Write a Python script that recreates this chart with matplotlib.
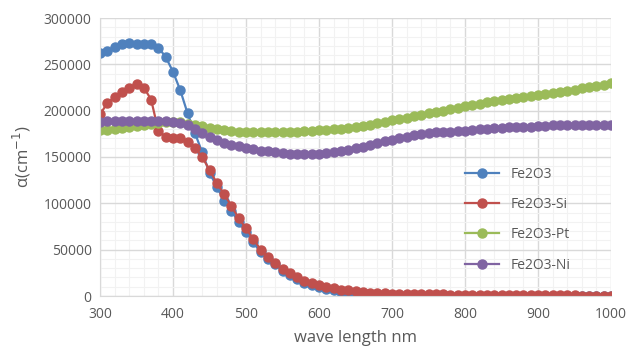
import numpy as np
import matplotlib
matplotlib.use('Agg')
import matplotlib.pyplot as plt
from matplotlib.ticker import MultipleLocator

# wavelength grid (nm), one point every 10 nm
wavelength = list(range(300, 1001, 10))

fe2o3 = [262000, 264000, 269000, 272000, 273000, 272000, 272000, 272000, 268000, 258000,
         242000, 222000, 197000, 176000, 155000, 133000, 118000, 103000, 92000, 80000,
         69000, 58000, 47000, 40000, 34000, 27500, 23000, 18500, 14500, 12000,
         9500, 7500, 6000, 4500, 3500, 2800, 2000, 1500, 1000, 700,
         500, 300, 200, 100, 0, 0, -500, -500, -500, -500,
         -500, -500, -500, -500, -500, -500, -500, -500, -500, -500,
         -300, -300, -300, -300, -300, -300, -300, -300, -300, -300, -300]

fe2o3_si = [196000, 208000, 215000, 220000, 225000, 229000, 225000, 212000, 178000, 172000,
            171000, 170000, 166000, 160000, 150000, 136000, 122000, 110000, 97000, 84000,
            73000, 61500, 50000, 42000, 36000, 29000, 25000, 20500, 16000, 14000,
            11500, 10000, 8500, 7000, 6000, 5000, 4200, 3600, 3200, 2800,
            2600, 2400, 2200, 2100, 2000, 1900, 1800, 1700, 1600, 1600,
            1500, 1500, 1400, 1400, 1300, 1300, 1200, 1200, 1100, 1000,
            900, 800, 700, 700, 600, 600, 500, 500, 400, 400, 400]

fe2o3_pt = [179000, 179500, 180000, 181000, 182000, 183000, 184500, 186000, 187000, 188000,
            188000, 187500, 186000, 185000, 183000, 181500, 180000, 179000, 178000, 177500,
            177000, 177000, 177000, 177000, 177000, 177000, 177000, 177500, 178000, 178500,
            179000, 179500, 180000, 180500, 181500, 182000, 183500, 185000, 186500, 188000,
            189500, 191000, 192500, 194000, 195500, 197000, 198500, 200000, 201500, 203000,
            204500, 206000, 207500, 209000, 210000, 211500, 212500, 213500, 214500, 215500,
            217000, 218000, 219000, 220000, 221500, 222500, 224000, 225500, 227000, 228000, 229500]

fe2o3_ni = [188000, 188500, 188500, 188500, 188500, 188500, 188500, 188500, 188500, 188500,
            188000, 186500, 184000, 180000, 176000, 172000, 168500, 165500, 163000, 161500,
            160000, 158500, 157000, 156000, 155000, 154000, 153000, 153000, 153000, 153000,
            153500, 154000, 155000, 156500, 158000, 159500, 161000, 163000, 165000, 167000,
            168500, 170500, 172000, 173500, 174500, 175500, 176500, 177000, 177500, 178000,
            178500, 179500, 180000, 180500, 181000, 181500, 182000, 182000, 182500, 182500,
            183000, 183500, 184000, 184000, 184500, 184500, 185000, 185000, 185000, 185000, 185000]

series = [('Fe2O3', fe2o3, '#4F81BD'),
          ('Fe2O3-Si', fe2o3_si, '#C0504D'),
          ('Fe2O3-Pt', fe2o3_pt, '#9BBB59'),
          ('Fe2O3-Ni', fe2o3_ni, '#8064A2')]

plt.rcParams['font.family'] = ['Open Sans', 'DejaVu Sans']
text_color = '#595959'

fig = plt.figure(figsize=(6.26, 3.58), dpi=100)
ax = fig.add_axes([100 / 626, 1 - 296 / 358, 511 / 626, 278 / 358])

for name, values, color in series:
    ax.plot(wavelength, values, color=color, linewidth=1.6, marker='o',
            markersize=6.5, label=name)

ax.set_xlim(300, 1000)
ax.set_ylim(0, 300000)
ax.xaxis.set_major_locator(MultipleLocator(100))
ax.xaxis.set_minor_locator(MultipleLocator(20))
ax.yaxis.set_major_locator(MultipleLocator(50000))
ax.yaxis.set_minor_locator(MultipleLocator(10000))

ax.grid(which='major', color='#d9d9d9', linewidth=1.0)
ax.grid(which='minor', color='#f2f2f2', linewidth=0.8)
ax.set_axisbelow(True)

for side in ['top', 'right']:
    ax.spines[side].set_visible(False)
for side in ['left', 'bottom']:
    ax.spines[side].set_color('#d9d9d9')

ax.tick_params(which='both', length=0, colors=text_color, labelsize=10, pad=6)
ax.tick_params(axis='x', pad=8)

ax.set_xlabel('wave length nm', fontsize=12, color=text_color, labelpad=6)
ax.set_ylabel('α(cm$^{-1}$)', fontsize=12, color=text_color, labelpad=8)

leg = ax.legend(loc='upper left', bbox_to_anchor=(0.689, 0.51), frameon=False,
                fontsize=10, labelspacing=1.1, handlelength=2.5, handletextpad=0.8)
for t in leg.get_texts():
    t.set_color(text_color)

fig.savefig('out.png', dpi=100)
